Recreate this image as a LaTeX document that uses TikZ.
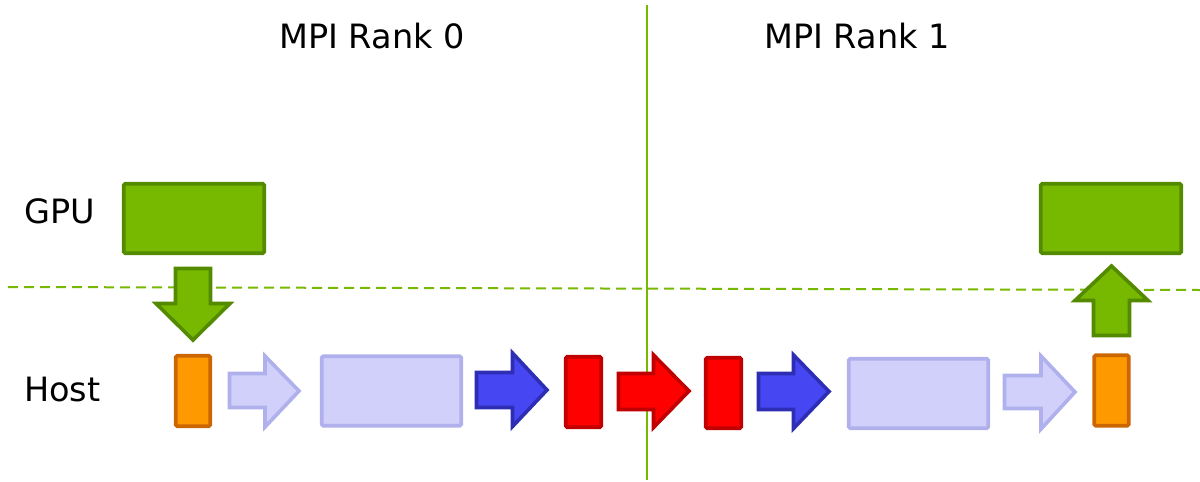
\documentclass[tikz,border=0pt]{standalone}
\usepackage{fontspec}
\setmainfont{DejaVu Sans}
\definecolor{nvgreen}{HTML}{76B900}
\definecolor{nvgreendark}{HTML}{548A00}
\definecolor{orfill}{HTML}{FF9900}
\definecolor{ordraw}{HTML}{CC6600}
\definecolor{ltfill}{HTML}{D0D0FA}
\definecolor{ltdraw}{HTML}{B0B0EC}
\definecolor{blfill}{HTML}{4646F2}
\definecolor{bldraw}{HTML}{2E2EB4}
\definecolor{rdfill}{HTML}{FF0000}
\definecolor{rddraw}{HTML}{C00000}
\begin{document}
\begin{tikzpicture}[x=1pt,y=-1pt,
  lbl/.style={inner sep=0pt,font=\fontsize{33.5}{36}\selectfont,anchor=base},
  sidelbl/.style={lbl,anchor=base west},
  box/.style={draw,line width=3.6pt,rounded corners=1.5pt,inner sep=0pt},
  gpubox/.style={box,fill=nvgreen,draw=nvgreendark,minimum width=140.5pt,minimum height=69.5pt},
  orbox/.style={box,fill=orfill,draw=ordraw,minimum width=34.5pt,minimum height=70.5pt},
  ltbox/.style={box,fill=ltfill,draw=ltdraw,minimum width=139.5pt,minimum height=69.5pt},
  rdbox/.style={box,fill=rdfill,draw=rddraw,minimum width=35.5pt,minimum height=70.5pt},
  garrow/.style={fill=nvgreen,draw=nvgreendark,line width=3.6pt,line join=miter},
  larrow/.style={fill=ltfill,draw=ltdraw,line width=3.6pt},
  barrow/.style={fill=blfill,draw=bldraw,line width=3.6pt},
  rarrow/.style={fill=rdfill,draw=rddraw,line width=3.6pt},
  sepline/.style={draw=nvgreen,line width=2pt,dash pattern=on 10pt off 6pt}
]
\useasboundingbox (0,0) rectangle (1200,482);
% separators
\coordinate (dl) at (8,287);
\coordinate (dr) at (1200,290);
\draw[sepline] (dl) -- (dr);
\coordinate (vt) at (647,5);
\coordinate (vb) at (647,480);
\draw[draw=nvgreen,line width=2pt] (vt) -- (vb);
% labels
\node[lbl] (r0) at (372,48) {MPI Rank 0};
\node[lbl] (r1) at (857,48) {MPI Rank 1};
\node[sidelbl] (gpul) at (24,223) {GPU};
\node[sidelbl] (hostl) at (24,401) {Host};
% boxes
\node[gpubox] (g0) at (194,218.5) {};
\node[gpubox] (g1) at (1111,218.5) {};
\node[orbox] (o0) at (193,391) {};
\node[orbox] (o1) at (1111.5,390.5) {};
\node[ltbox] (l0) at (391.5,391) {};
\node[ltbox] (l1) at (918.5,393.5) {};
\node[rdbox] (rd0) at (583.5,392) {};
\node[rdbox] (rd1) at (723.5,393) {};
% arrows
\draw[garrow] (175.5,268.5) -- (210.5,268.5) -- (210.5,303.5) -- (230,303.5) -- (193,340) -- (156,303.5) -- (175.5,303.5) -- cycle;
\draw[garrow] (1093.5,335.5) -- (1093.5,300.5) -- (1075,300.5) -- (1111.5,266) -- (1148,300.5) -- (1129.5,300.5) -- (1129.5,335.5) -- cycle;
\draw[larrow] (229.5,373.5) -- (265,373.5) -- (265,356) -- (299,391) -- (265,427) -- (265,407.5) -- (229.5,407.5) -- cycle;
\draw[barrow] (476.5,372.5) -- (512.5,372.5) -- (512.5,353) -- (547,390) -- (512.5,426.5) -- (512.5,407.5) -- (476.5,407.5) -- cycle;
\draw[rarrow] (618.5,373.5) -- (653.5,373.5) -- (653.5,355) -- (689,391) -- (653.5,427.5) -- (653.5,409.5) -- (618.5,409.5) -- cycle;
\draw[barrow] (758.5,373.5) -- (793.5,373.5) -- (793.5,355) -- (829,391.5) -- (793.5,428.5) -- (793.5,409.5) -- (758.5,409.5) -- cycle;
\draw[larrow] (1004.5,375.5) -- (1041,375.5) -- (1041,356) -- (1075,392) -- (1041,429) -- (1041,408.5) -- (1004.5,408.5) -- cycle;
\end{tikzpicture}
\end{document}
